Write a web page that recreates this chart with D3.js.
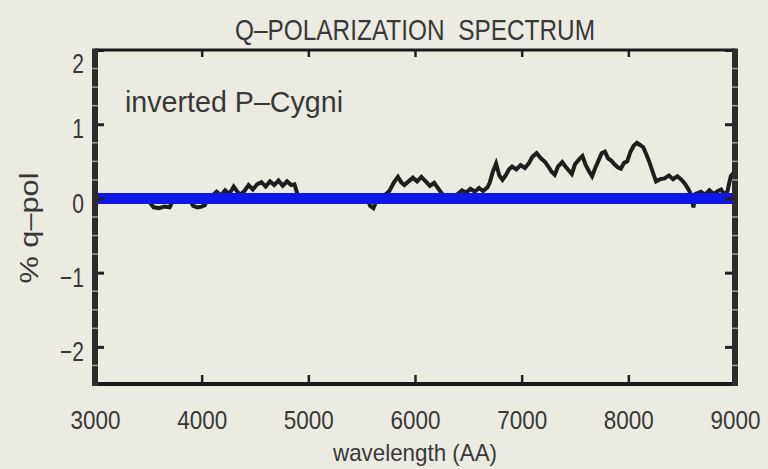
<!DOCTYPE html>
<html>
<head>
<meta charset="utf-8">
<script src="https://cdn.jsdelivr.net/npm/d3@7"></script>
<style>
  html, body { margin: 0; padding: 0; background: #ecebe1; }
  svg { display: block; }
  text { font-family: "Liberation Sans", Arial, sans-serif; fill: #383838; }
</style>
</head>
<body>
<svg id="chart" width="768" height="469"></svg>
<script>
// Q-polarization spectrum: wavelength (Angstrom) and percent q-polarization
const wavelength = [
  3000, 3050, 3100, 3150, 3200, 3250, 3300, 3350, 3400, 3450, 3500, 3550, 3600, 3650, 3700, 3730,
  3780, 3830, 3880, 3920, 3960, 4000, 4030, 4060, 4100, 4140, 4180, 4220, 4260, 4300, 4330, 4360,
  4400, 4440, 4480, 4520, 4560, 4600, 4640, 4680, 4720, 4760, 4800, 4840, 4870, 4900, 4950, 5000,
  5050, 5100, 5150, 5200, 5250, 5300, 5350, 5400, 5450, 5500, 5550, 5580, 5610, 5640, 5680, 5720,
  5760, 5800, 5840, 5870, 5900, 5940, 5980, 6020, 6060, 6100, 6140, 6180, 6220, 6260, 6300, 6350,
  6400, 6440, 6480, 6520, 6560, 6600, 6640, 6680, 6700, 6730, 6760, 6790, 6820, 6850, 6880, 6910,
  6950, 6990, 7030, 7070, 7100, 7140, 7180, 7220, 7250, 7280, 7310, 7340, 7380, 7410, 7440, 7470,
  7500, 7540, 7570, 7600, 7630, 7660, 7690, 7720, 7750, 7780, 7810, 7840, 7870, 7900, 7930, 7960,
  7990, 8020, 8050, 8080, 8110, 8140, 8170, 8200, 8230, 8260, 8300, 8340, 8380, 8420, 8460, 8500,
  8530, 8560, 8590, 8610, 8630, 8680, 8720, 8760, 8800, 8840, 8870, 8900, 8930, 8960, 8990, 9000
];
const qpol = [
  0.00, 0.02, -0.01, 0.03, 0.00, -0.02, 0.01, 0.03, -0.01, 0.00, -0.03, -0.12, -0.13, -0.11, -0.12, -0.03,
  0.01, -0.02, 0.00, -0.10, -0.12, -0.11, -0.09, 0.00, 0.04, 0.09, 0.04, 0.11, 0.06, 0.16, 0.10, 0.05,
  0.10, 0.18, 0.12, 0.19, 0.22, 0.16, 0.23, 0.18, 0.24, 0.17, 0.23, 0.18, 0.19, 0.05, 0.01, -0.02,
  0.02, 0.00, 0.04, 0.02, -0.01, 0.01, -0.02, 0.02, 0.00, -0.02, 0.01, -0.10, -0.13, -0.03, 0.02, 0.05,
  0.10, 0.21, 0.29, 0.22, 0.18, 0.23, 0.28, 0.23, 0.29, 0.23, 0.17, 0.21, 0.13, 0.05, 0.03, 0.02,
  0.06, 0.11, 0.08, 0.13, 0.09, 0.14, 0.10, 0.15, 0.21, 0.36, 0.47, 0.31, 0.25, 0.31, 0.39, 0.43,
  0.39, 0.45, 0.41, 0.48, 0.56, 0.61, 0.54, 0.49, 0.43, 0.36, 0.32, 0.43, 0.49, 0.43, 0.38, 0.33,
  0.46, 0.53, 0.57, 0.45, 0.37, 0.30, 0.41, 0.51, 0.61, 0.63, 0.54, 0.51, 0.46, 0.42, 0.40, 0.48,
  0.50, 0.63, 0.71, 0.75, 0.72, 0.69, 0.59, 0.48, 0.35, 0.23, 0.26, 0.27, 0.31, 0.26, 0.30, 0.25,
  0.20, 0.13, 0.05, -0.12, 0.06, 0.09, 0.05, 0.11, 0.06, 0.10, 0.12, 0.05, 0.10, 0.30, 0.35, 0.30
];
// zero reference line across the full range
const zeroLine = [[3000, 0], [9000, 0]];

const xTicks = [3000, 4000, 5000, 6000, 7000, 8000, 9000];
const yTicks = [-2, -1, 0, 1, 2];
const yMinorTicks = [-2.25, -1.75, -1.5, -1.25, -0.75, -0.5, -0.25, 0.25, 0.5, 0.75, 1.25, 1.5, 1.75];

const titleText = "Q\u2013POLARIZATION  SPECTRUM";
const xLabel = "wavelength (AA)";
const yLabel = "% q\u2013pol";
const noteText = "inverted P\u2013Cygni";

const W = 768, H = 469;
const margin = { top: 50, right: 33, bottom: 85, left: 95 };
const iw = W - margin.left - margin.right;
const ih = H - margin.top - margin.bottom;

// narrow a text node horizontally (the plotting font is a condensed stroke font)
function squeeze(node, factor) {
  const len = node.getComputedTextLength();
  d3.select(node).attr("textLength", len * factor).attr("lengthAdjust", "spacingAndGlyphs");
}
function fitWidth(node, width) {
  d3.select(node).attr("textLength", width).attr("lengthAdjust", "spacingAndGlyphs");
}

const svg = d3.select("#chart");
svg.append("rect").attr("width", W).attr("height", H).attr("fill", "#ecebe1");

const g = svg.append("g").attr("transform", `translate(${margin.left},${margin.top})`);

const x = d3.scaleLinear().domain([3000, 9000]).range([0, iw]);
const y = d3.scaleLinear().domain([-2.5, 2]).range([ih, 0]);

g.append("clipPath").attr("id", "plotClip")
  .append("rect").attr("x", 0).attr("y", 0).attr("width", iw).attr("height", ih);

// spectrum trace
const spectrum = d3.zip(wavelength, qpol);
const line = d3.line().x(d => x(d[0])).y(d => y(d[1]));
g.append("path")
  .datum(spectrum)
  .attr("clip-path", "url(#plotClip)")
  .attr("fill", "none")
  .attr("stroke", "#1c1f1c")
  .attr("stroke-width", 4)
  .attr("stroke-linejoin", "miter")
  .attr("d", line);

// thick zero line
g.append("path")
  .datum(zeroLine)
  .attr("fill", "none")
  .attr("stroke", "#0e16e8")
  .attr("stroke-width", 11)
  .attr("d", line);

// axes with inward ticks
const axisStyle = (sel, w) => {
  sel.select(".domain").remove();
  sel.selectAll(".tick line").attr("stroke", "#222").attr("stroke-width", w);
};

const xAxis = g.append("g").attr("transform", `translate(0,${ih})`)
  .call(d3.axisBottom(x).tickValues(xTicks).tickFormat(d3.format("d")).tickSize(-9).tickPadding(27));
axisStyle(xAxis, 2.5);
xAxis.selectAll("text").attr("font-size", 26).attr("fill", "#383838")
  .each(function () { fitWidth(this, 50); });

const xTop = g.append("g")
  .call(d3.axisTop(x).tickValues(xTicks).tickSize(-7).tickFormat(""));
axisStyle(xTop, 2.5);

const yAxis = g.append("g")
  .call(d3.axisLeft(y).tickValues(yTicks).tickFormat(d3.format("d")).tickSize(-9).tickPadding(11));
axisStyle(yAxis, 3);
yAxis.selectAll("text").attr("font-size", 27).attr("fill", "#383838")
  .attr("transform", d => `translate(0,${d === 2 ? 14 : 5})`)
  .each(function () { squeeze(this, 0.78); });

const yRight = g.append("g").attr("transform", `translate(${iw},0)`)
  .call(d3.axisRight(y).tickValues(yTicks).tickSize(-10).tickFormat(""));
axisStyle(yRight, 3);

// frame
g.append("line").attr("x1", 0).attr("x2", iw).attr("y1", 0).attr("y2", 0)
  .attr("stroke", "#1a1a1a").attr("stroke-width", 3);
g.append("line").attr("x1", 0).attr("x2", iw).attr("y1", ih).attr("y2", ih)
  .attr("stroke", "#1a1a1a").attr("stroke-width", 4);
g.append("line").attr("x1", 0).attr("x2", 0).attr("y1", -1.5).attr("y2", ih + 2)
  .attr("stroke", "#2c2c2c").attr("stroke-width", 6);
g.append("line").attr("x1", iw).attr("x2", iw).attr("y1", -1.5).attr("y2", ih + 2)
  .attr("stroke", "#2c2c2c").attr("stroke-width", 6);

// minor tick marks across the thick side lines
[0, iw].forEach(px => {
  g.append("g").selectAll("line").data(yMinorTicks).join("line")
    .attr("x1", px - 3).attr("x2", px + 3)
    .attr("y1", d => y(d)).attr("y2", d => y(d))
    .attr("stroke", "#9c9c98").attr("stroke-width", 1.5);
});

// annotation
g.append("text")
  .attr("x", 30).attr("y", 62)
  .attr("font-size", 29)
  .text(noteText)
  .each(function () { fitWidth(this, 218); });

// titles
svg.append("text")
  .attr("x", margin.left + iw / 2).attr("y", 40)
  .attr("text-anchor", "middle")
  .attr("font-size", 30)
  .style("white-space", "pre")
  .text(titleText)
  .each(function () { fitWidth(this, 360); });

svg.append("text")
  .attr("x", margin.left + iw / 2).attr("y", 461)
  .attr("text-anchor", "middle")
  .attr("font-size", 24)
  .text(xLabel)
  .each(function () { fitWidth(this, 164); });

svg.append("text")
  .attr("transform", `translate(38,228) rotate(-90)`)
  .attr("text-anchor", "middle")
  .attr("font-size", 25)
  .text(yLabel)
  .each(function () { fitWidth(this, 111); });
</script>
</body>
</html>
